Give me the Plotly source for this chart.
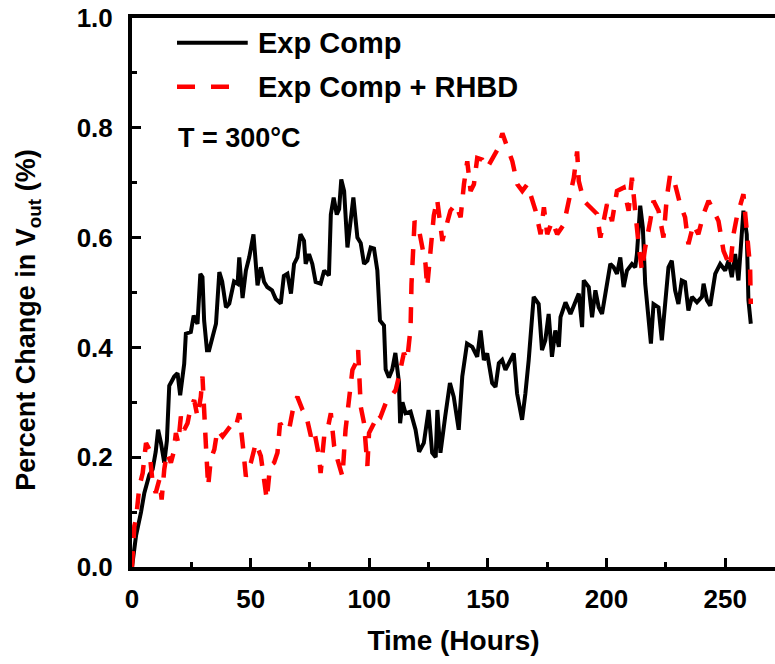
import plotly.graph_objects as go

# ---- data ----
hours_exp = [0, 1.7, 3.8, 5.2, 7.3, 8.7, 10, 11, 12.2, 13.6, 14.7, 15.7, 17.8, 19.2, 20.3, 22, 22.7, 24.8, 26, 27.6,
             28.8, 29.7, 30.4, 31.6, 32.5, 35.4, 36.8, 38, 39.6, 41, 43, 44.5, 45.2, 46.6, 48, 49.4, 51.2, 52.9, 54.3,
             55.7, 57, 59, 60.6, 62.7, 64, 65.5, 67, 68.3, 69.7, 71, 72.5, 73.2, 74.6, 76, 77.4, 79.5, 81, 83, 83.8,
             85, 86.3, 87.3, 88.2, 89.4, 90.8, 92.2, 93.3, 95, 96.4, 97.8, 99.2, 100.6, 102, 103.4, 104.5, 106.2,
             106.9, 108.3, 109.7, 111, 112.5, 113, 114, 115.3, 117.4, 119.5, 121, 123, 125, 126.5, 128, 128.7, 130,
             132, 134, 135.6, 137.7, 139.2, 141.2, 143.4, 145.5, 146.9, 148.3, 149.7, 151.8, 153.2, 154.6, 156,
             157.4, 158.8, 160.9, 162.3, 164.4, 165.8, 167.2, 169.3, 171.4, 172.8, 174.2, 175.6, 177, 178.4, 179.9,
             180.6, 182.7, 184.8, 186.9, 188.3, 189.7, 190.4, 192.5, 193.9, 195.3, 196.7, 198.1, 200.2, 201.6, 203,
             204.4, 205.8, 207.2, 208.6, 210.7, 212.1, 212.8, 214.2, 215.3, 216.3, 217.7, 218.7, 219.8, 221.9,
             223.3, 224.7, 226.1, 227.5, 228.9, 230.3, 231.7, 233.1, 234.5, 236, 238.1, 240.2, 240.9, 242.3, 243.7,
             245.8, 247.9, 250, 251.4, 252.8, 254.2, 255.6, 256.6, 257.7, 259.1, 259.8, 260.8]
vout_exp = [0, 0.057, 0.10, 0.135, 0.168, 0.178, 0.21, 0.25, 0.226, 0.19, 0.23, 0.33, 0.347, 0.353, 0.313, 0.37,
            0.425, 0.428, 0.458, 0.443, 0.534, 0.528, 0.449, 0.395, 0.395, 0.443, 0.537, 0.52, 0.473, 0.48, 0.52,
            0.516, 0.564, 0.49, 0.54, 0.564, 0.606, 0.513, 0.546, 0.519, 0.51, 0.504, 0.488, 0.48, 0.53, 0.534,
            0.498, 0.552, 0.564, 0.606, 0.594, 0.552, 0.57, 0.552, 0.519, 0.516, 0.54, 0.531, 0.642, 0.673, 0.642,
            0.652, 0.706, 0.685, 0.582, 0.642, 0.673, 0.6, 0.59, 0.552, 0.558, 0.582, 0.58, 0.54, 0.449, 0.44, 0.36,
            0.345, 0.36, 0.39, 0.337, 0.262, 0.3, 0.28, 0.283, 0.25, 0.21, 0.226, 0.286, 0.208, 0.2, 0.286, 0.208,
            0.274, 0.335, 0.31, 0.25, 0.347, 0.407, 0.401, 0.383, 0.431, 0.377, 0.389, 0.335, 0.328, 0.371, 0.377,
            0.359, 0.371, 0.389, 0.316, 0.268, 0.316, 0.377, 0.492, 0.479, 0.395, 0.413, 0.461, 0.383, 0.431, 0.401,
            0.455, 0.482, 0.461, 0.486, 0.498, 0.437, 0.522, 0.51, 0.455, 0.504, 0.473, 0.461, 0.522, 0.552, 0.546,
            0.534, 0.564, 0.51, 0.54, 0.552, 0.546, 0.57, 0.658, 0.618, 0.516, 0.455, 0.407, 0.479, 0.473, 0.413,
            0.479, 0.546, 0.558, 0.504, 0.479, 0.522, 0.519, 0.467, 0.492, 0.482, 0.492, 0.516, 0.486, 0.476,
            0.534, 0.552, 0.54, 0.558, 0.528, 0.57, 0.522, 0.594, 0.649, 0.606, 0.486, 0.443]

hours_rhbd = [0, 1, 1.7, 2.4, 3.1, 4.5, 5.9, 7.3, 8.7, 10, 11.5, 12.5, 13.6, 14.7, 16.4, 17.5, 18.5, 19.5, 20.6, 22,
              23.4, 24.8, 26.2, 27.6, 29, 29.7, 30.4, 31.1, 32.1, 33.2, 34.7, 36, 38.2, 40.3, 42.4, 43.8, 45.2, 46.6,
              48, 50.1, 52.2, 54.3, 55.7, 56.8, 58.2, 59.9, 61.3, 62.4, 64.1, 66.2, 68.3, 69.7, 71.9, 73.2, 75.4,
              76.7, 78.8, 79.5, 81, 82.4, 83.8, 85.2, 86.6, 88.7, 90, 91.5, 92.9, 94.3, 95.3, 96.4, 97.8, 99.2, 99.9,
              102, 103.4, 104.8, 106.9, 109, 111.1, 112.5, 114.6, 116, 117.4, 117.8, 118.5, 119.1, 120.9, 123.7,
              124.4, 125.8, 127.2, 128.6, 130.8, 131.5, 134.2, 136.4, 138.5, 139.9, 141.3, 142.7, 144.1, 145.5,
              147.6, 149.7, 151.8, 154, 156.1, 158.2, 160.3, 162.4, 164.5, 166.6, 168.7, 170.1, 172.2, 173.6, 175,
              177.1, 179.2, 182, 184.1, 186.2, 187.6, 188.3, 190.4, 193.2, 196, 197.4, 200.2, 202.3, 204.4, 207.2,
              209.3, 210.7, 212.1, 213.5, 214.9, 216.3, 218.4, 219.8, 221.9, 224, 225.4, 226.8, 228.9, 231, 233.1,
              234.5, 236.6, 238.7, 240.9, 243, 245.1, 247.2, 249.3, 250.7, 252.1, 253.5, 254.9, 257.7, 259.1, 260.5,
              260.8]
vout_rhbd = [0, 0.075, 0.087, 0.123, 0.147, 0.171, 0.226, 0.214, 0.153, 0.135, 0.159, 0.123, 0.178, 0.208, 0.19,
             0.208, 0.244, 0.226, 0.274, 0.25, 0.262, 0.292, 0.304, 0.274, 0.31, 0.347, 0.274, 0.226, 0.147, 0.196,
             0.214, 0.25, 0.238, 0.25, 0.262, 0.256, 0.28, 0.226, 0.165, 0.19, 0.226, 0.202, 0.153, 0.123, 0.184,
             0.19, 0.208, 0.262, 0.25, 0.25, 0.298, 0.31, 0.286, 0.28, 0.238, 0.25, 0.202, 0.171, 0.238, 0.25, 0.28,
             0.22, 0.196, 0.165, 0.25, 0.31, 0.359, 0.371, 0.395, 0.292, 0.262, 0.184, 0.244, 0.262, 0.28, 0.274,
             0.298, 0.31, 0.322, 0.347, 0.39, 0.377, 0.435, 0.516, 0.576, 0.63, 0.615, 0.552, 0.51, 0.58, 0.64,
             0.67, 0.594, 0.606, 0.649, 0.661, 0.637, 0.697, 0.739, 0.685, 0.697, 0.745, 0.742, 0.727, 0.745, 0.76,
             0.79, 0.763, 0.739, 0.697, 0.685, 0.697, 0.667, 0.649, 0.606, 0.655, 0.606, 0.63, 0.606, 0.624, 0.667,
             0.709, 0.757, 0.703, 0.667, 0.655, 0.643, 0.6, 0.661, 0.63, 0.685, 0.691, 0.649, 0.709, 0.637, 0.588,
             0.54, 0.582, 0.63, 0.667, 0.649, 0.6, 0.673, 0.715, 0.697, 0.661, 0.637, 0.588, 0.624, 0.606, 0.643,
             0.667, 0.649, 0.63, 0.576, 0.558, 0.546, 0.606, 0.637, 0.679, 0.618, 0.546, 0.479]

x_ticks = [0, 50, 100, 150, 200, 250]
y_ticks = [0.0, 0.2, 0.4, 0.6, 0.8, 1.0]
series_names = ["Exp Comp", "Exp Comp + RHBD"]
note_text = "T = 300°C"
y_title = "Percent Change in V<sub>out</sub> (%)"
x_title = "Time (Hours)"

FONT = "Liberation Sans, Arial, sans-serif"

fig = go.Figure()
fig.add_trace(go.Scatter(x=hours_exp, y=vout_exp, mode="lines", name=series_names[0],
                         line=dict(color="black", width=4), showlegend=False))
fig.add_trace(go.Scatter(x=hours_rhbd, y=vout_rhbd, mode="lines", name=series_names[1],
                         line=dict(color="#ff0000", width=4.5, dash="16px,13px"), showlegend=False))

# manual legend (sample lines + labels)
fig.add_shape(type="line", xref="paper", yref="paper", x0=0.070, x1=0.180, y0=0.955, y1=0.955,
              line=dict(color="black", width=4))
fig.add_shape(type="line", xref="paper", yref="paper", x0=0.070, x1=0.155, y0=0.875, y1=0.875,
              line=dict(color="#ff0000", width=4.5, dash="18px,16px"))
fig.add_annotation(xref="paper", yref="paper", x=0.193, y=0.955, xanchor="left", yanchor="middle",
                   text=series_names[0], showarrow=False, font=dict(size=29))
fig.add_annotation(xref="paper", yref="paper", x=0.193, y=0.875, xanchor="left", yanchor="middle",
                   text=series_names[1], showarrow=False, font=dict(size=29))
fig.add_annotation(xref="paper", yref="paper", x=0.068, y=0.782, xanchor="left", yanchor="middle",
                   text=note_text, showarrow=False, font=dict(size=27))
# y-axis title placed as rotated text (sits slightly below the plot centre in the reference)
fig.add_annotation(xref="paper", yref="paper", x=-0.162, y=0.45, xanchor="center", yanchor="middle",
                   text=y_title, textangle=-90, showarrow=False, font=dict(size=27))

fig.update_layout(
    width=775, height=664,
    margin=dict(l=132, r=0, t=18, b=97),
    paper_bgcolor="white", plot_bgcolor="white",
    font=dict(family=FONT, size=26, color="black", weight="bold"),
)
fig.update_xaxes(
    range=[0, 271], tickvals=x_ticks, ticktext=[str(v) for v in x_ticks],
    ticks="inside", ticklen=9, tickwidth=3, tickcolor="black",
    minor=dict(dtick=25, ticks="inside", ticklen=5, tickwidth=3, tickcolor="black"),
    showline=True, linecolor="black", linewidth=4, mirror=True,
    showgrid=False, zeroline=False,
    tickfont=dict(size=26), ticklabelstandoff=6,
    title=dict(text=x_title, font=dict(size=28), standoff=18),
)
fig.update_yaxes(
    range=[0, 1.0], tickvals=y_ticks, ticktext=[f"{v:.1f}" for v in y_ticks],
    ticks="inside", ticklen=9, tickwidth=3, tickcolor="black",
    minor=dict(dtick=0.1, ticks="inside", ticklen=5, tickwidth=3, tickcolor="black"),
    showline=True, linecolor="black", linewidth=4, mirror=False,
    showgrid=False, zeroline=False,
    tickfont=dict(size=26), ticklabelstandoff=10,
)

fig.write_html("out.html")
